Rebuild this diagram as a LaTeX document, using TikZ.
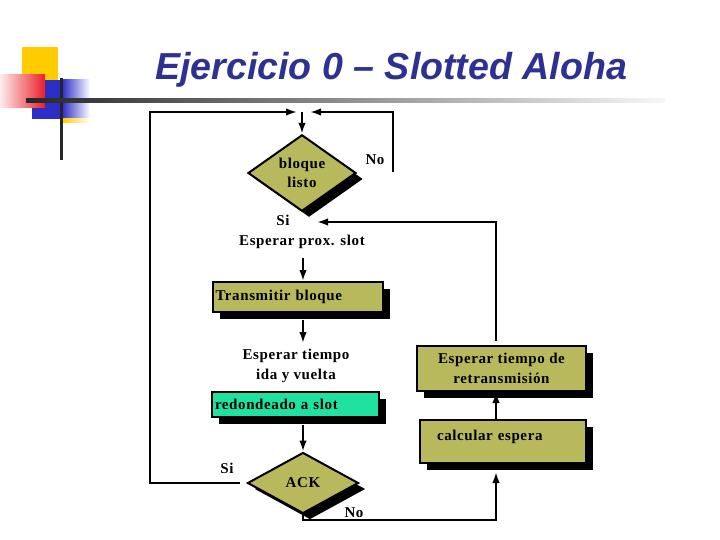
\documentclass[tikz,border=0pt]{standalone}
\usepackage{fontspec}
\usepackage{graphicx}
\setmainfont{Liberation Serif}[LetterSpace=4]
\newfontfamily\titlefont{Liberation Sans}
\usetikzlibrary{shapes.geometric,arrows.meta,shadows}
\definecolor{olivefill}{RGB}{183,185,92}
\definecolor{aquafill}{RGB}{32,226,160}
\definecolor{titleblue}{RGB}{46,49,146}
\definecolor{logoyellow}{RGB}{255,204,0}
\definecolor{logored}{RGB}{235,30,40}
\definecolor{logoblue}{RGB}{45,45,200}
\begin{document}
\begin{tikzpicture}[x=1pt,y=-1pt,
 every node/.style={font=\fontsize{15}{19.5}\selectfont\bfseries},
 conn/.style={line width=2pt},
 arr/.style={conn,-{Latex[length=11pt,width=7.5pt]}},
 box/.style={draw,line width=2pt,fill=olivefill,inner sep=0pt,
   general shadow={fill=black,shadow xshift=7pt,shadow yshift=-7pt}},
 dia/.style={diamond,draw,line width=2pt,fill=olivefill,inner sep=0pt,align=center,
   general shadow={fill=black,shadow xshift=7pt,shadow yshift=-6pt}},
 lbl/.style={inner sep=0pt,align=center}]
\useasboundingbox (0,0) rectangle (720,540);
% logo
\fill[logoyellow] (22,47) rectangle (58,85);
\fill[logoblue] (32,80) rectangle (62,119);
\shade[left color=logoblue,right color=white] (62,80) rectangle (90,119);
\shade[left color=logoyellow,right color=white] (62,119) rectangle (90,123);
\shade[left color=logored!8,right color=logored] (0,75) rectangle (45,108);
\fill[black!85] (59.5,78) rectangle (62.5,160);
\shade[left color=black!85,right color=black!3] (26,99) rectangle (665,103);
% title
\node[anchor=base west,inner sep=0pt,text=titleblue] (title) at (155,80)
  {\resizebox{472pt}{!}{\fontsize{36}{40}\selectfont\titlefont\bfseries\itshape Ejercicio 0 – Slotted Aloha}};
% nodes
\node[dia,minimum width=108pt,minimum height=75pt] (d1) at (302,173) {bloque\\listo};
\node[box,minimum width=170pt,minimum height=30pt,text width=165pt,inner xsep=2.5pt,align=left] (tb) at (298,297) {Transmitir bloque};
\node[box,fill=aquafill,minimum width=167pt,minimum height=25pt,text width=161pt,inner xsep=3pt,align=left] (rs) at (295.5,404.5) {redondeado a slot};
\node[box,minimum width=169pt,minimum height=45pt,align=center] (ret) at (501.5,368.5) {Esperar tiempo de\\retransmisión};
\node[box,text width=132pt,inner xsep=17pt,inner ysep=7.5pt,text height=13pt,text depth=15pt,align=left] (calc) at (503,441.5) {calcular espera};
\node[dia,minimum width=111pt,minimum height=61pt] (ack) at (303,483) {ACK};
\node[lbl] (no1) at (375,160) {No};
\node[lbl] (si1) at (283,220) {Si};
\node[lbl] (eps) at (302,242) {Esperar prox. slot};
\node[lbl] (ety) at (296,366) {Esperar tiempo\\ida y vuelta};
\node[lbl] (si2) at (227,468) {Si};
\node[lbl] (no2) at (354,513) {No};
% coordinates
\coordinate (top) at (302,112);
\coordinate (lt) at (150,112);
\coordinate (lb) at (150,483);
\coordinate (rt) at (393,112);
\coordinate (rb) at (393,172);
\coordinate (sr) at (496,222);
\coordinate (sl) at (317,222);
\coordinate (br) at (496,520);
\coordinate (a1) at (303,258);
\coordinate (a2) at (303,343);
\coordinate (cb) at (calc.south -| br);
% connectors
\draw[arr] (top) -- (d1.north);
\draw[arr,shorten <=7pt] (ack.west) -- (lb) -- (lt) -- ([xshift=-5pt]top);
\draw[arr] (rb) -- (rt) -- ([xshift=8pt]top);
\draw[arr,shorten <=4pt] (ret.north -| sr) -- (sr) -- (sl);
\draw[arr] (a1) -- (a1 |- tb.north);
\draw[arr,shorten <=7pt] (a2 |- tb.south) -- (a2);
\draw[arr,shorten <=7pt] (rs.south -| ack.north) -- (ack.north);
\draw[arr] (ack.south) |- (br) -- ([yshift=-8pt]cb);
\draw[arr] (calc.north -| br) -- (ret.south -| br);
\end{tikzpicture}
\end{document}
